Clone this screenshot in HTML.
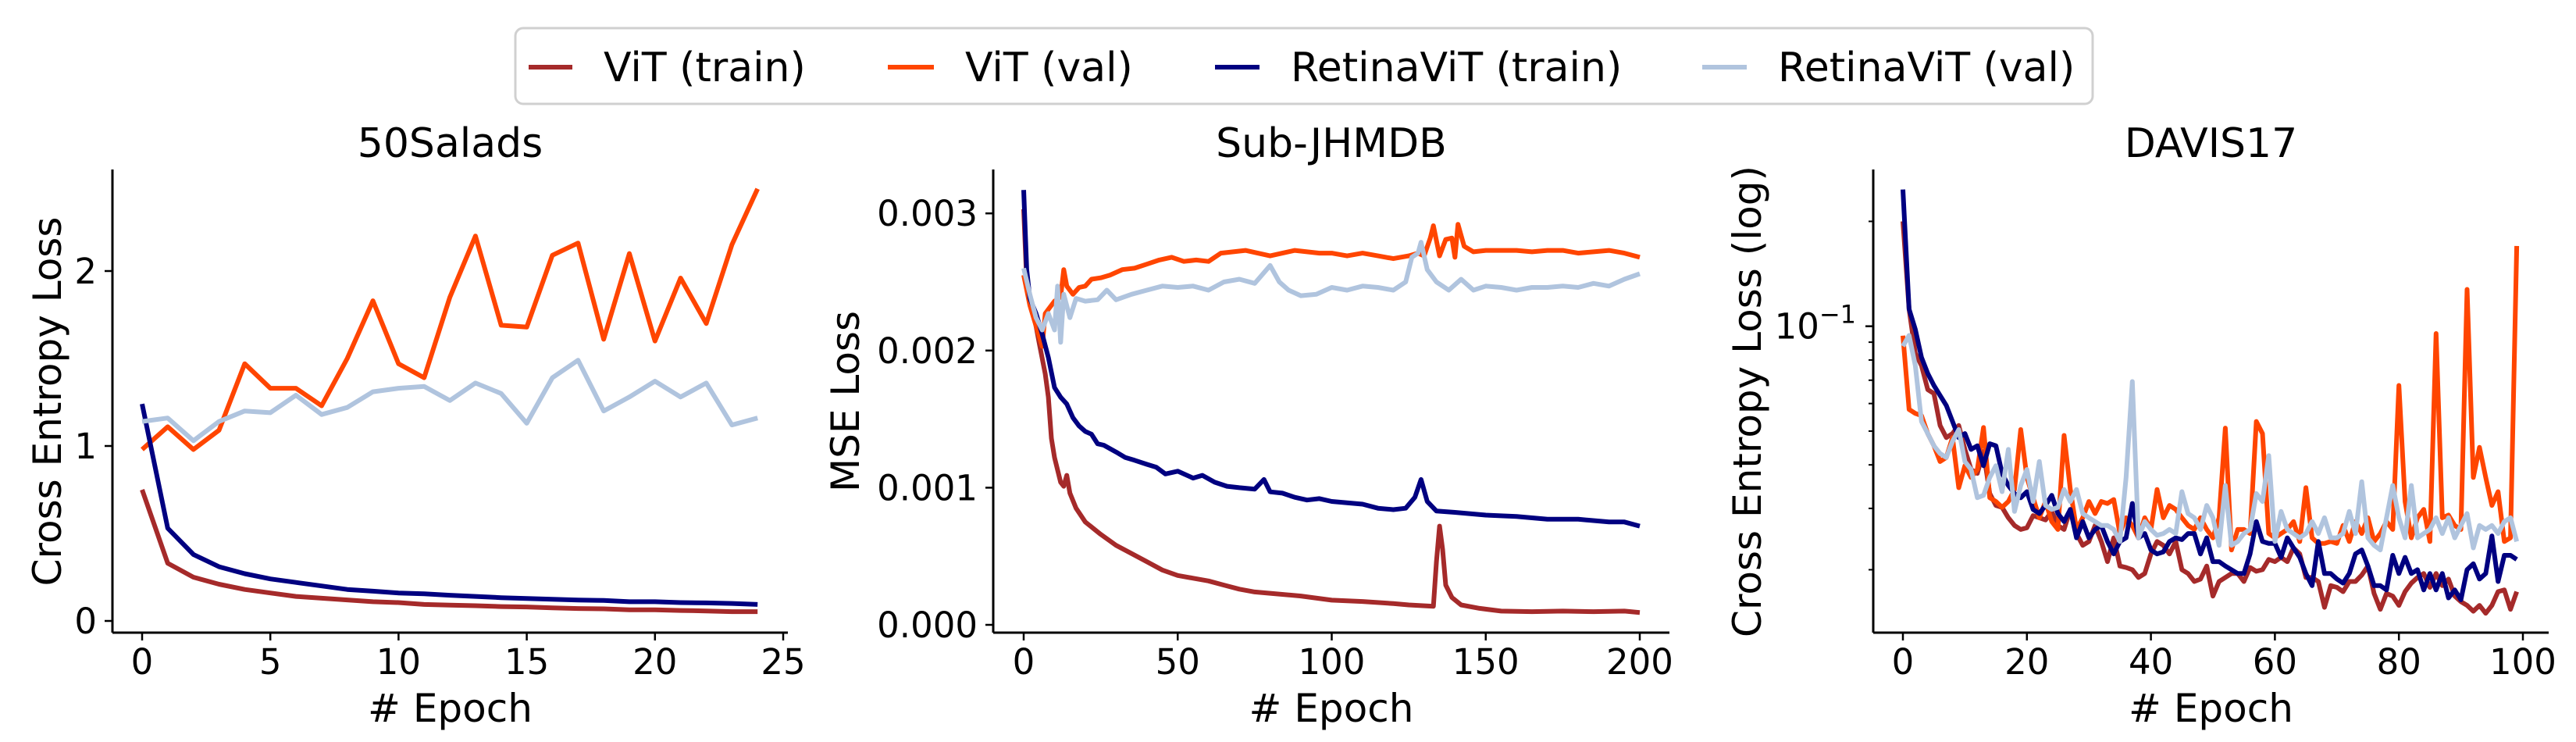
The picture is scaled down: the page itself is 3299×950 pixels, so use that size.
<!DOCTYPE html>
<html><head><meta charset="utf-8">
<style>
html,body{margin:0;padding:0;background:#fff;}
svg{display:block;font-family:"DejaVu Sans","Liberation Sans",sans-serif;}
</style></head>
<body>
<svg id="fig" width="3299" height="950" viewBox="0 0 3299 950" xmlns="http://www.w3.org/2000/svg">
<g>
<rect x="660" y="36" width="2020" height="97" rx="10" fill="#fff" stroke="#d0d0d0" stroke-width="3"/>
<line x1="677" y1="86" x2="733" y2="86" stroke="#a52a2a" stroke-width="6"/>
<text x="773" y="104" font-size="52">ViT (train)</text>
<line x1="1137" y1="86" x2="1196" y2="86" stroke="#ff4500" stroke-width="6"/>
<text x="1236" y="104" font-size="52">ViT (val)</text>
<line x1="1556" y1="86" x2="1613" y2="86" stroke="#000080" stroke-width="6"/>
<text x="1653" y="104" font-size="52">RetinaViT (train)</text>
<line x1="2180" y1="86" x2="2237" y2="86" stroke="#b0c4de" stroke-width="6"/>
<text x="2277" y="104" font-size="52">RetinaViT (val)</text>
</g>
</svg>
<script>
// ---------- Panel 1: 50Salads ----------
const saladsEpochs = [0,1,2,3,4,5,6,7,8,9,10,11,12,13,14,15,16,17,18,19,20,21,22,23,24];
const saladsVitTrain = [0.75,0.33,0.25,0.21,0.18,0.16,0.14,0.13,0.12,0.11,0.105,0.094,0.09,0.087,0.082,0.08,0.075,0.071,0.069,0.064,0.064,0.06,0.057,0.053,0.053];
const saladsVitVal = [0.98,1.11,0.98,1.09,1.47,1.33,1.33,1.23,1.50,1.83,1.47,1.39,1.85,2.20,1.69,1.68,2.09,2.16,1.61,2.10,1.60,1.96,1.70,2.15,2.47];
const saladsRetTrain = [1.24,0.53,0.38,0.31,0.27,0.24,0.22,0.20,0.18,0.17,0.16,0.155,0.147,0.14,0.133,0.128,0.124,0.119,0.117,0.11,0.11,0.105,0.103,0.10,0.094];
const saladsRetVal = [1.14,1.16,1.03,1.14,1.20,1.19,1.29,1.18,1.22,1.31,1.33,1.34,1.26,1.36,1.30,1.13,1.39,1.49,1.20,1.28,1.37,1.28,1.36,1.12,1.16];
const saladsXTicks = [0,5,10,15,20,25];
const saladsYTicks = [0,1,2];

// ---------- Panel 2: Sub-JHMDB (values in units of 1e-3) ----------
const jhmdbVitTrainX = [0,1,3,5,7,8,9,10,11,12,13,14,15,17,20,25,30,35,40,45,50,55,60,65,70,75,80,90,100,110,120,125,133,134,135,136,137,139,142,148,155,165,175,185,195,200];
const jhmdbVitTrain = [3.03,2.5,2.3,2.06,1.83,1.66,1.36,1.22,1.13,1.04,1.01,1.09,0.96,0.85,0.75,0.66,0.58,0.52,0.46,0.40,0.36,0.34,0.32,0.29,0.26,0.24,0.23,0.21,0.18,0.17,0.155,0.145,0.135,0.46,0.72,0.55,0.29,0.20,0.145,0.12,0.10,0.096,0.10,0.096,0.10,0.09];
const jhmdbRetTrainX = [0,1,2,4,6,8,10,12,14,16,18,20,22,24,26,30,33,36,40,43,46,50,55,58,62,66,70,75,78,80,84,88,92,96,100,105,110,115,120,124,127,129,131,134,140,150,160,170,180,190,195,200];
const jhmdbRetTrain = [3.17,2.59,2.38,2.27,2.12,1.95,1.73,1.66,1.61,1.51,1.45,1.41,1.39,1.32,1.31,1.26,1.22,1.20,1.17,1.15,1.10,1.12,1.07,1.09,1.04,1.01,1.00,0.99,1.06,0.97,0.96,0.93,0.91,0.92,0.90,0.89,0.88,0.85,0.84,0.85,0.93,1.06,0.90,0.83,0.82,0.80,0.79,0.77,0.77,0.75,0.75,0.72];
const jhmdbVitValX = [0,2,4,6,7,8,10,12,13,14,16,18,20,22,25,28,32,36,40,44,48,52,56,60,64,68,72,76,80,84,88,92,96,100,105,110,115,120,125,128,130,132,133,135,137,139,140,141,143,146,150,155,160,165,170,175,180,185,190,195,200];
const jhmdbVitVal = [2.55,2.33,2.18,2.03,2.27,2.30,2.36,2.39,2.59,2.47,2.41,2.46,2.47,2.52,2.53,2.55,2.59,2.60,2.63,2.66,2.68,2.65,2.66,2.65,2.71,2.72,2.73,2.71,2.69,2.71,2.73,2.72,2.71,2.71,2.69,2.71,2.69,2.67,2.69,2.71,2.69,2.82,2.91,2.69,2.81,2.82,2.68,2.92,2.76,2.72,2.73,2.73,2.73,2.72,2.73,2.73,2.71,2.72,2.73,2.71,2.68];
const jhmdbRetValX = [0,2,4,6,8,10,11,12,13,15,17,20,24,27,30,35,40,45,50,55,60,65,70,75,80,83,86,90,95,100,105,110,115,120,124,126,128,129,131,134,138,142,146,150,155,160,165,170,175,180,185,190,195,200];
const jhmdbRetVal = [2.60,2.41,2.24,2.15,2.27,2.15,2.47,2.06,2.41,2.24,2.38,2.36,2.37,2.44,2.37,2.41,2.44,2.47,2.46,2.47,2.44,2.50,2.52,2.49,2.62,2.50,2.44,2.40,2.41,2.46,2.44,2.47,2.46,2.44,2.50,2.68,2.71,2.79,2.59,2.50,2.44,2.52,2.44,2.47,2.46,2.44,2.46,2.46,2.47,2.46,2.49,2.47,2.52,2.56];
const jhmdbXTicks = [0,50,100,150,200];
const jhmdbYTicks = [0,1,2,3];
const jhmdbYTickLabels = ["0.000","0.001","0.002","0.003"];

// ---------- Panel 3: DAVIS17 (log) ----------
const davisVitVal = [0.094,0.0577,0.0562,0.0554,0.0492,0.0454,0.0409,0.0420,0.0479,0.0344,0.0398,0.0368,0.0388,0.0512,0.0322,0.0314,0.0302,0.0314,0.0340,0.0505,0.0368,0.0322,0.0282,0.0314,0.0275,0.0261,0.0486,0.0340,0.0261,0.0282,0.0314,0.0290,0.0314,0.0310,0.0318,0.0254,0.0282,0.0268,0.0247,0.0282,0.0261,0.0340,0.0282,0.0306,0.0298,0.0282,0.0268,0.0261,0.0282,0.0261,0.0247,0.0282,0.0510,0.0228,0.0261,0.0261,0.0254,0.0533,0.0492,0.0254,0.0247,0.0254,0.0261,0.0275,0.0241,0.0344,0.0247,0.0238,0.0238,0.0241,0.0238,0.0268,0.0241,0.0275,0.0254,0.0282,0.0241,0.0254,0.0275,0.0261,0.0676,0.0314,0.0247,0.0282,0.0298,0.0241,0.0953,0.0282,0.0287,0.0268,0.0261,0.1276,0.0368,0.0449,0.0368,0.0306,0.0335,0.0241,0.0247,0.170];
const davisRetVal = [0.0876,0.0941,0.0771,0.0533,0.0492,0.0454,0.0431,0.0420,0.0467,0.0505,0.0409,0.0388,0.0322,0.0327,0.0368,0.0398,0.0335,0.0443,0.0294,0.0349,0.0388,0.0314,0.0409,0.0306,0.0298,0.0302,0.0340,0.0314,0.0340,0.0290,0.0282,0.0275,0.0268,0.0268,0.0261,0.0241,0.0368,0.0694,0.0247,0.0275,0.0261,0.0251,0.0254,0.0261,0.0254,0.0335,0.0290,0.0282,0.0261,0.0306,0.0282,0.0235,0.0349,0.0235,0.0241,0.0254,0.0261,0.0331,0.0314,0.0425,0.0241,0.0294,0.0261,0.0254,0.0247,0.0254,0.0275,0.0254,0.0282,0.0247,0.0247,0.0254,0.0294,0.0254,0.0358,0.0247,0.0235,0.0228,0.0282,0.0349,0.0282,0.0247,0.0349,0.0247,0.0254,0.0261,0.0282,0.0254,0.0282,0.0247,0.0268,0.0290,0.0231,0.0268,0.0261,0.0268,0.0254,0.0275,0.0282,0.0241];
const davisRetTrain = [0.247,0.112,0.0979,0.0814,0.0732,0.0676,0.0633,0.0592,0.0533,0.0479,0.0492,0.0443,0.0454,0.0398,0.0460,0.0454,0.0378,0.0349,0.0331,0.0322,0.0335,0.0298,0.0290,0.0306,0.0327,0.0290,0.0275,0.0298,0.0247,0.0275,0.0247,0.0261,0.0268,0.0241,0.0222,0.0241,0.0247,0.0310,0.0247,0.0254,0.0228,0.0222,0.0225,0.0241,0.0247,0.0244,0.0254,0.0254,0.0222,0.0247,0.0211,0.0211,0.0205,0.0200,0.0195,0.0195,0.0222,0.0275,0.0241,0.0238,0.0238,0.0217,0.0247,0.0231,0.0217,0.0195,0.0180,0.0241,0.0195,0.0195,0.0188,0.0183,0.0195,0.0222,0.0228,0.0205,0.0180,0.0180,0.0175,0.0220,0.0195,0.0217,0.0195,0.0200,0.0175,0.0195,0.0175,0.0195,0.0166,0.0175,0.0164,0.0200,0.0208,0.0188,0.0195,0.0250,0.0185,0.0220,0.0220,0.0214];
const davisVitTrain = [0.200,0.112,0.0836,0.0771,0.0658,0.0641,0.0519,0.0479,0.0492,0.0519,0.0443,0.0388,0.0378,0.0437,0.0331,0.0306,0.0302,0.0282,0.0268,0.0261,0.0264,0.0286,0.0282,0.0278,0.0294,0.0268,0.0261,0.0298,0.0254,0.0235,0.0241,0.0268,0.0241,0.0211,0.0247,0.0205,0.0203,0.0200,0.0190,0.0195,0.0222,0.0241,0.0235,0.0222,0.0241,0.0200,0.0195,0.0185,0.0188,0.0205,0.0168,0.0185,0.0190,0.0195,0.0195,0.0185,0.0203,0.0198,0.0200,0.0214,0.0211,0.0217,0.0211,0.0231,0.0222,0.0190,0.0190,0.0185,0.0156,0.0180,0.0178,0.0173,0.0185,0.0185,0.0193,0.0205,0.0171,0.0154,0.0171,0.0168,0.0158,0.0173,0.0183,0.0190,0.0195,0.0178,0.0195,0.0180,0.0188,0.0168,0.0162,0.0158,0.0152,0.0158,0.0150,0.0158,0.0173,0.0175,0.0154,0.0173];
const davisXTicks = [0,20,40,60,80,100];
const davisMinorTicks = [0.2,0.09,0.08,0.07,0.06,0.05,0.04,0.03,0.02];

const NS = "http://www.w3.org/2000/svg";
const svg = document.getElementById('fig');
const COLORS = {vitTrain:"#a52a2a", vitVal:"#ff4500", retTrain:"#000080", retVal:"#b0c4de"};

function mk(tag, attrs, parent){
  const el = document.createElementNS(NS, tag);
  for (const k in attrs) el.setAttribute(k, attrs[k]);
  (parent||svg).appendChild(el);
  return el;
}

function drawPanel(p){
  const g = mk('g', {});
  
  
  const ys = mk('line', {x1:p.left, y1:p.top, x2:p.left, y2:p.bottom, stroke:"#000", "stroke-width":3}, g);
  
  
  const xs = mk('line', {x1:p.left, y1:p.bottom, x2:p.right, y2:p.bottom, stroke:"#000", "stroke-width":3}, g);
  
  
  p.xTicks.forEach(t => {
    const x = p.xs(t);
    const tl = mk('line', {x1:x, y1:p.bottom, x2:x, y2:p.bottom+10, stroke:"#000", "stroke-width":2.5}, g);
    
    
    const tx = mk('text', {x:x, y:p.bottom+53, "font-size":45, "text-anchor":"middle"}, g);
    tx.textContent = String(t);
    
    
  });
  p.yTicks.forEach((t,i) => {
    const y = p.ys(t);
    const tl = mk('line', {x1:p.left-10, y1:y, x2:p.left, y2:y, stroke:"#000", "stroke-width":2.5}, g);
    
    
    const tx = mk('text', {x:p.left-20, y:y+16, "font-size":45, "text-anchor":"end"}, g);
    tx.textContent = p.yLabels ? p.yLabels[i] : String(t);
    
    
  });
  (p.minor||[]).forEach(t => {
    const y = p.ys(t);
    const tl = mk('line', {x1:p.left-6, y1:y, x2:p.left, y2:y, stroke:"#000", "stroke-width":2}, g);
    
    
  });
  p.series.forEach(s => {
    const pts = s.y.map((v,i) => p.xs(s.x[i]).toFixed(1) + ',' + p.ys(v).toFixed(1)).join(' ');
    const pl = mk('polyline', {points:pts, fill:"none", stroke:s.color, "stroke-width":6, "stroke-linejoin":"round"}, g);
    
    
  });
  const ti = mk('text', {x:(p.left+p.right)/2, y:201, "font-size":52, "text-anchor":"middle"}, g);
  ti.textContent = p.title;
  
  
  const xl = mk('text', {x:(p.left+p.right)/2, y:924, "font-size":50, "text-anchor":"middle"}, g);
  xl.textContent = "# Epoch";
  
  
  const yl = mk('text', {x:p.yLabelX, y:514, "font-size":50, "text-anchor":"middle", transform:"rotate(-90 "+p.yLabelX+" 514)"}, g);
  yl.textContent = p.yTitle;
  
  
  return g;
}

const range = n => Array.from({length:n}, (_,i)=>i);

drawPanel({
  name:"salads", title:"50Salads", yTitle:"Cross Entropy Loss", yLabelX:78,
  left:144, right:1009, top:217, bottom:810,
  xs: e => 182 + e*32.84, ys: v => 795 - v*224,
  xTicks:saladsXTicks, yTicks:saladsYTicks,
  series:[
    {key:"vit-train", x:saladsEpochs, y:saladsVitTrain, color:COLORS.vitTrain},
    {key:"vit-val", x:saladsEpochs, y:saladsVitVal, color:COLORS.vitVal},
    {key:"retinavit-train", x:saladsEpochs, y:saladsRetTrain, color:COLORS.retTrain},
    {key:"retinavit-val", x:saladsEpochs, y:saladsRetVal, color:COLORS.retVal}
  ]
});

drawPanel({
  name:"jhmdb", title:"Sub-JHMDB", yTitle:"MSE Loss", yLabelX:1100,
  left:1272, right:2138, top:217, bottom:810,
  xs: e => 1311 + e*3.945, ys: v => 800 - v*175.6,
  xTicks:jhmdbXTicks, yTicks:jhmdbYTicks, yLabels:jhmdbYTickLabels,
  series:[
    {key:"vit-train", x:jhmdbVitTrainX, y:jhmdbVitTrain, color:COLORS.vitTrain},
    {key:"vit-val", x:jhmdbVitValX, y:jhmdbVitVal, color:COLORS.vitVal},
    {key:"retinavit-train", x:jhmdbRetTrainX, y:jhmdbRetTrain, color:COLORS.retTrain},
    {key:"retinavit-val", x:jhmdbRetValX, y:jhmdbRetVal, color:COLORS.retVal}
  ]
});

const dEp = range(100);
const davis = drawPanel({
  name:"davis", title:"DAVIS17", yTitle:"Cross Entropy Loss (log)", yLabelX:2255,
  left:2399, right:3264, top:217, bottom:810,
  xs: e => 2437 + e*7.94, ys: v => 417.7 - (Math.log10(v)+1)*446,
  xTicks:davisXTicks, yTicks:[], minor:davisMinorTicks,
  series:[
    {key:"vit-train", x:dEp, y:davisVitTrain, color:COLORS.vitTrain},
    {key:"vit-val", x:dEp, y:davisVitVal, color:COLORS.vitVal},
    {key:"retinavit-train", x:dEp, y:davisRetTrain, color:COLORS.retTrain},
    {key:"retinavit-val", x:dEp, y:davisRetVal, color:COLORS.retVal}
  ]
});
const majY = 417.7 - (Math.log10(0.1)+1)*446;
const mt = mk('line', {x1:2389, y1:majY, x2:2399, y2:majY, stroke:"#000", "stroke-width":2.5}, davis);


const ml = mk('text', {x:2377, y:majY+16, "font-size":45, "text-anchor":"end"}, davis);


ml.innerHTML = '10<tspan dy="-20" font-size="32">−1</tspan>';
</script>
</body></html>
